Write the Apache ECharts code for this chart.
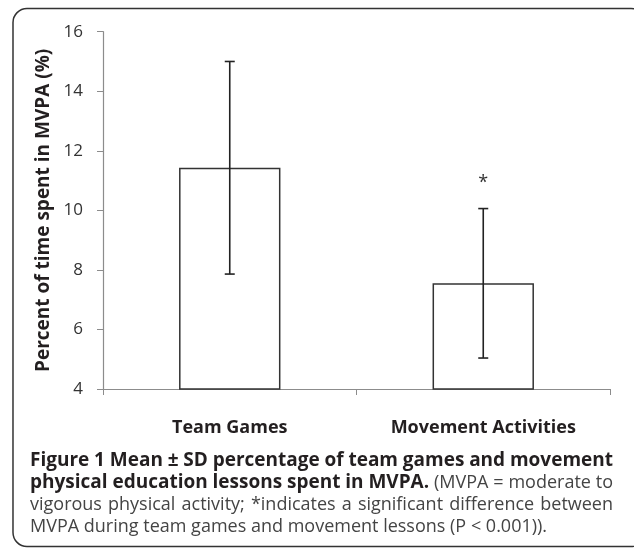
<!DOCTYPE html>
<html>
<head>
<meta charset="utf-8">
<script src="https://cdn.jsdelivr.net/npm/echarts@6/dist/echarts.min.js"></script>
<style>html,body{margin:0;padding:0;background:#fff;}#c{width:634px;height:549px;}</style>
</head>
<body>
<div id="c"></div>
<script>
const categories = ['Team Games', 'Movement Activities'];
const meanValues = [11.43, 7.55];
const sdValues = [3.57, 2.51];
const sigMarks = ['', '*'];
const yTicks = { min: 4, max: 16, interval: 2 };
const yName = 'Percent of time spent in MVPA (%)';
const captionLines = [
  [{ t: 'Figure 1 Mean ± SD percentage of team games and movement', b: true }],
  [{ t: 'physical education lessons spent in MVPA.', b: true }, { t: '(MVPA = moderate to', b: false }],
  [{ t: 'vigorous physical activity; *indicates a significant difference between', b: false }],
  [{ t: 'MVPA during team games and movement lessons (P < 0.001)).', b: false }]
];

const FONT = 'Open Sans';
const BOLD_SIZE = 19, NORM_SIZE = 18;
const chart = echarts.init(document.getElementById('c'), null, { renderer: 'canvas' });

const errData = categories.map((c, i) => [i, meanValues[i] - sdValues[i], meanValues[i] + sdValues[i]]);

// caption layout (justified like the journal figure)
const mctx = document.createElement('canvas').getContext('2d');
function fontStr(b) { return (b ? 'bold ' : '') + (b ? BOLD_SIZE : NORM_SIZE) + 'px "' + FONT + '"'; }
function measure(t, b) { mctx.font = fontStr(b); return mctx.measureText(t).width; }

const graphics = [{
  type: 'rect', silent: true,
  shape: { x: 13, y: 8.5, width: 632, height: 538, r: 14 },
  style: { fill: 'none', stroke: '#333', lineWidth: 1.5 }
}];
const capLeft = 30, capRight = 613;
const lineY = [461, 483, 505, 527];
captionLines.forEach((parts, li) => {
  const words = [];
  parts.forEach(p => p.t.split(' ').forEach(w => { if (w) words.push({ w: w, b: p.b, width: measure(w, p.b) }); }));
  const total = words.reduce((s, w) => s + w.width, 0);
  const last = li === captionLines.length - 1;
  const gap = last ? measure(' ', false) : (capRight - capLeft - total) / (words.length - 1);
  let x = capLeft;
  words.forEach(w => {
    graphics.push({
      type: 'text', silent: true, x: x, y: lineY[li],
      style: {
        text: w.w, fontFamily: FONT, fontWeight: w.b ? 'bold' : 'normal',
        fontSize: w.b ? BOLD_SIZE : NORM_SIZE, fill: w.b ? '#231f20' : '#444',
        align: 'left', verticalAlign: 'middle'
      }
    });
    x += w.width + gap;
  });
});

chart.setOption({
  animation: false,
  grid: { left: 103, right: 24, top: 31.7, bottom: 160 },
  xAxis: {
    type: 'category', data: categories,
    axisLine: { lineStyle: { color: '#8c8c8c', width: 1.2 } },
    axisTick: { show: true, alignWithLabel: false, length: 6, lineStyle: { color: '#8c8c8c' } },
    axisLabel: { fontFamily: FONT, fontWeight: 'bold', fontSize: 18, color: '#231f20', margin: 30 }
  },
  yAxis: {
    type: 'value', min: yTicks.min, max: yTicks.max, interval: yTicks.interval,
    name: yName, nameLocation: 'middle', nameGap: 48,
    nameTextStyle: { fontFamily: FONT, fontWeight: 'bold', fontSize: 19, color: '#231f20' },
    axisLine: { show: true, lineStyle: { color: '#8c8c8c', width: 1.2 } },
    axisTick: { show: true, length: 6, lineStyle: { color: '#8c8c8c' } },
    splitLine: { show: false },
    axisLabel: { fontFamily: FONT, fontSize: 17, color: '#333', margin: 20 }
  },
  series: [{
    type: 'bar', data: meanValues, barWidth: '40%',
    itemStyle: { color: '#fff', borderColor: '#333', borderWidth: 1.5 }
  }, {
    type: 'custom', data: errData, z: 5,
    renderItem: function (params, api) {
      const x = api.value(0);
      const lo = api.coord([x, api.value(1)]);
      const hi = api.coord([x, api.value(2)]);
      const hw = 5;
      const st = { stroke: '#222', lineWidth: 1.6 };
      const children = [
        { type: 'line', shape: { x1: lo[0], y1: lo[1], x2: hi[0], y2: hi[1] }, style: st },
        { type: 'line', shape: { x1: lo[0] - hw, y1: lo[1], x2: lo[0] + hw, y2: lo[1] }, style: st },
        { type: 'line', shape: { x1: hi[0] - hw, y1: hi[1], x2: hi[0] + hw, y2: hi[1] }, style: st }
      ];
      const mark = sigMarks[params.dataIndex];
      if (mark) {
        children.push({ type: 'text', x: hi[0], y: hi[1] - 26,
          style: { text: mark, fontFamily: FONT, fontSize: 18, fill: '#333', align: 'center', verticalAlign: 'middle' } });
      }
      return { type: 'group', children: children };
    }
  }],
  graphic: graphics
});
</script>
</body>
</html>
